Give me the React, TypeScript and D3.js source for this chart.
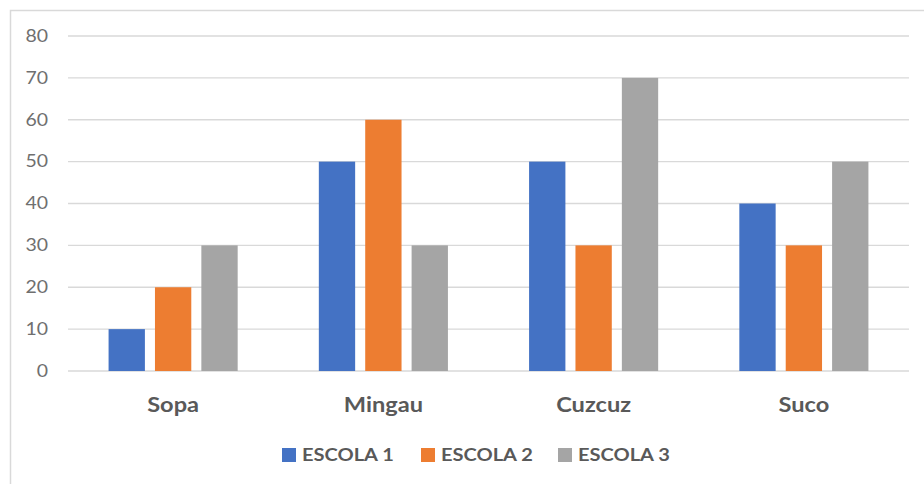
import React from "react";
import * as d3 from "d3";

const categories = ["Sopa", "Mingau", "Cuzcuz", "Suco"];
const seriesNames = ["ESCOLA 1", "ESCOLA 2", "ESCOLA 3"];
const escola1 = [10, 50, 50, 40];
const escola2 = [20, 60, 30, 30];
const escola3 = [30, 30, 70, 50];
const yTicks = [0, 10, 20, 30, 40, 50, 60, 70, 80];
const colors = ["#4472C4", "#ED7D31", "#A5A5A5"];

const W = 924;
const H = 484;
const FONT = "Lato, 'Open Sans', sans-serif";
const SX = 1.18;

export default function App() {
  const values = [escola1, escola2, escola3];
  const left = 68;
  const right = 909;
  const y = d3.scaleLinear().domain([0, 80]).range([371, 36]);
  const x0 = d3
    .scaleBand<string>()
    .domain(categories)
    .range([left, right])
    .paddingInner(0.386)
    .paddingOuter(0.193);
  const x1 = d3
    .scaleBand<string>()
    .domain(seriesNames)
    .range([0, x0.bandwidth()])
    .paddingInner(0.217)
    .paddingOuter(0);

  const legendX = [282, 421, 558];

  return (
    <svg
      width={W}
      height={H}
      style={{ position: "absolute", left: 0, top: 0, background: "#fff" }}
    >
      <rect x={0} y={0} width={W} height={H} fill="#fff" />
      <rect x={10.5} y={10.5} width={W + 20} height={H + 20} fill="none" stroke="#d9d9d9" strokeWidth={1.5} />
      {yTicks.map((t) => (
        <g key={t}>
          <line x1={left} x2={right} y1={y(t)} y2={y(t)} stroke="#d9d9d9" strokeWidth={1.3} />
          <g transform={`translate(48,${y(t)}) scale(${SX},1)`}>
            <text
              x={0}
              y={0}
              dy="0.35em"
              textAnchor="end"
              fontFamily={FONT}
              fontSize={16.5}
              fill="#6f6f6f"
            >
              {t}
            </text>
          </g>
        </g>
      ))}
      {categories.map((c, ci) => (
        <g key={c} transform={`translate(${x0(c)},0)`}>
          {seriesNames.map((s, si) => (
            <rect
              key={s}
              x={x1(s)}
              y={y(values[si][ci])}
              width={x1.bandwidth()}
              height={y(0) - y(values[si][ci])}
              fill={colors[si]}
            />
          ))}
          <g transform={`translate(${x0.bandwidth() / 2},405) scale(${SX},1)`}>
            <text
              x={0}
              y={0}
              dy="0.35em"
              textAnchor="middle"
              fontFamily={FONT}
              fontWeight="bold"
              fontSize={20}
              fill="#595959"
            >
              {c}
            </text>
          </g>
        </g>
      ))}
      {seriesNames.map((s, si) => (
        <g key={s} transform={`translate(${legendX[si]},455)`}>
          <rect x={0} y={-7} width={14} height={14} fill={colors[si]} />
          <g transform={`translate(20,0) scale(${SX},1)`}>
            <text x={0} y={0} dy="0.35em" fontFamily={FONT} fontWeight="bold" fontSize={17} fill="#595959">
              {s}
            </text>
          </g>
        </g>
      ))}
    </svg>
  );
}
